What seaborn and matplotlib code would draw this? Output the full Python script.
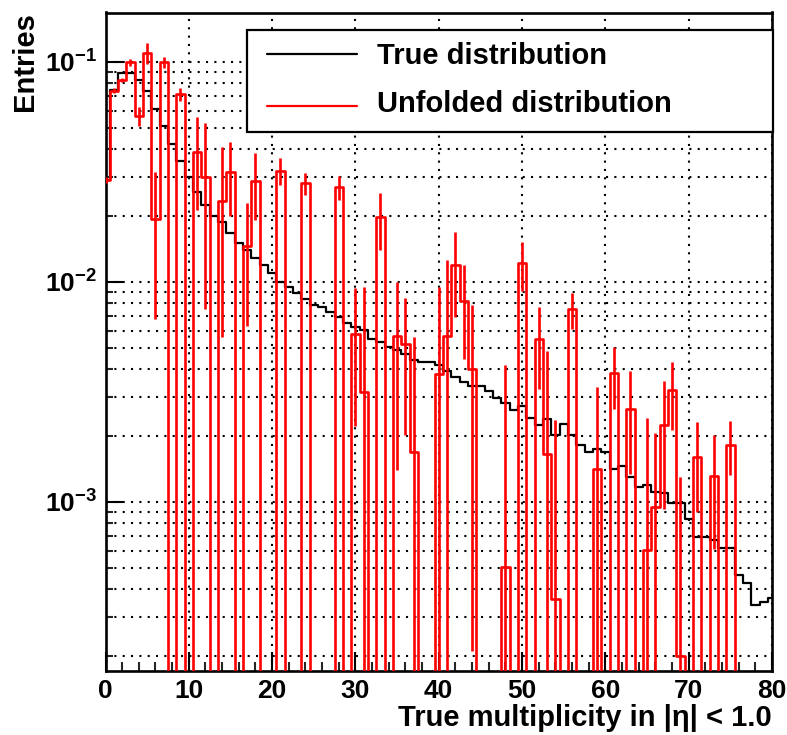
import numpy as np
import pandas as pd
import matplotlib
matplotlib.use("Agg")
import matplotlib.pyplot as plt
import seaborn as sns
from matplotlib.ticker import LogLocator, MultipleLocator, NullFormatter
from matplotlib.patches import Rectangle
from matplotlib.lines import Line2D

# ---------------- data ----------------
multiplicity = list(range(81))

true_dist = [
    0.029, 0.074, 0.089, 0.089, 0.0826, 0.0737, 0.0608, 0.0512, 0.0421, 0.0354,
    0.030, 0.0257, 0.0223, 0.0200, 0.0186, 0.0167, 0.0150, 0.0140, 0.0128, 0.0119,
    0.0109, 0.0100, 0.0095, 0.00886, 0.00831, 0.00783, 0.0077, 0.00731, 0.00693, 0.00647,
    0.00624, 0.00603, 0.00547, 0.00533, 0.00507, 0.0049, 0.00468, 0.00441, 0.00433, 0.0043,
    0.00418, 0.00393, 0.0037, 0.00351, 0.00336, 0.00336, 0.00318, 0.00295, 0.00282, 0.00261,
    0.00273, 0.00239, 0.00223, 0.00238, 0.00201, 0.00225, 0.00201, 0.00182, 0.00169, 0.00173,
    0.00169, 0.00141, 0.00145, 0.00129, 0.00117, 0.00119, 0.00111, 0.00109, 0.000989, 0.000989,
    0.000832, 0.000693, 0.000693, 0.00067, 0.000614, 0.000614, 0.000464, 0.000428, 0.000339, 0.000351,
    0.000364,
]

unfolded = [
    0.029, 0.0738, 0.0826, 0.0994, 0.0567, 0.110, 0.0192, 0.0994, 0.0, 0.071,
    0.0, 0.0387, 0.030, 0.0, 0.0233, 0.0316, 0.0, 0.0145, 0.0287, 0.0,
    0.0, 0.0319, 0.0, 0.0, 0.028, 0.0, 0.0, 0.0, 0.0269, 0.0,
    0.00578, 0.00316, 0.0, 0.0197, 0.0, 0.00569, 0.00521, 0.00168, 0.0, 0.0,
    0.0038, 0.00569, 0.0119, 0.00817, 0.00401, 0.0, 0.0, 0.0, 0.000507, 0.0,
    0.01213, 0.0, 0.00547, 0.00165, 0.00036, 0.0, 0.00751, 0.0, 0.0, 0.00141,
    0.0, 0.00383, 0.0, 0.00263, 0.0, 0.000603, 0.000948, 0.00223, 0.00322, 0.000199,
    0.0, 0.0016, 0.0, 0.00131, 0.0, 0.00182, 0.0, 0.0, 0.0, 0.0,
    0.0,
]

unfolded_err = [
    0.001, 0.002, 0.002, 0.0034, 0.0057, 0.012, 0.0124, 0.0056, 0.0, 0.0047,
    0.0, 0.0176, 0.0225, 0.0, 0.0177, 0.0117, 0.0, 0.0082, 0.0096, 0.0,
    0.0, 0.0045, 0.0, 0.0, 0.0033, 0.0, 0.0, 0.0, 0.0033, 0.0,
    0.00357, 0.00635, 0.0, 0.0057, 0.0, 0.0043, 0.0032, 0.00394, 0.0, 0.0,
    0.0057, 0.0068, 0.005, 0.0037, 0.0038, 0.0, 0.0, 0.0, 0.00367, 0.0,
    0.0031, 0.0, 0.0022, 0.0032, 0.0020, 0.0, 0.0014, 0.0, 0.0, 0.0019,
    0.0, 0.0012, 0.0, 0.0013, 0.0, 0.0018, 0.0011, 0.0013, 0.0011, 0.0011,
    0.0, 0.0007, 0.0, 0.0007, 0.0, 0.0005, 0.0, 0.0, 0.0, 0.0,
    0.0,
]

x_ticks = [0, 10, 20, 30, 40, 50, 60, 70, 80]
y_ticks = [1e-3, 1e-2, 1e-1]
y_tick_labels = [r"$\mathbf{10^{-3}}$", r"$\mathbf{10^{-2}}$", r"$\mathbf{10^{-1}}$"]
legend_labels = ["True distribution", "Unfolded distribution"]
x_title = "True multiplicity in |η| < 1.0"
y_title = "Entries"

# ---------------- style ----------------
sns.set_theme(style="white")
plt.rcParams["font.family"] = ["Liberation Sans", "DejaVu Sans"]
plt.rcParams["mathtext.fontset"] = "custom"
plt.rcParams["mathtext.rm"] = "Liberation Sans"
plt.rcParams["mathtext.bf"] = "Liberation Sans:bold"

W_PX, H_PX = 787, 735
fig = plt.figure(figsize=(W_PX / 100, H_PX / 100), dpi=100, facecolor="white")


def fx(px):
    return px / W_PX


def fy(py):
    return 1 - py / H_PX


ax_l, ax_r, ax_t, ax_b = 105.5, 772.0, 12.5, 670.7
ax = fig.add_axes([fx(ax_l), fy(ax_b), fx(ax_r) - fx(ax_l), fy(ax_t) - fy(ax_b)])
ax.set_facecolor("white")

df = pd.DataFrame({"mult": multiplicity, "true": true_dist,
                   "unf": unfolded, "err": unfolded_err})

sns.histplot(data=df, x="mult", weights="true", binwidth=1, binrange=(-0.5, 80.5),
             element="step", fill=False, color="black", linewidth=1.6, ax=ax, zorder=3)
sns.histplot(data=df, x="mult", weights="unf", binwidth=1, binrange=(-0.5, 80.5),
             element="step", fill=False, color="#ff0000", linewidth=1.9, ax=ax, zorder=4)

nz = df[df["unf"] > 0]
ax.errorbar(nz["mult"], nz["unf"], yerr=nz["err"], fmt="none",
            ecolor="#ff0000", elinewidth=1.9, capsize=0, zorder=4)

ax.set_yscale("log")
ax.set_xlim(0, 80)
ax.set_ylim(1.706e-4, 0.1674)

# ticks
ax.set_xticks(x_ticks, labels=[str(t) for t in x_ticks], fontsize=19, fontweight="bold")
ax.xaxis.set_minor_locator(MultipleLocator(2))
ax.set_yticks(y_ticks, labels=y_tick_labels, fontsize=19)
ax.yaxis.set_minor_locator(LogLocator(base=10, subs=np.arange(2, 10), numticks=30))
ax.yaxis.set_minor_formatter(NullFormatter())

ax.tick_params(axis="x", which="major", direction="in", length=14, width=1.5,
               pad=6, colors="black", bottom=True)
ax.tick_params(axis="x", which="minor", direction="in", length=6.5, width=1.5,
               bottom=True)
ax.tick_params(axis="y", which="major", direction="in", length=12, width=1.5,
               pad=6, colors="black", left=True)
ax.tick_params(axis="y", which="minor", direction="in", length=5, width=1.5,
               left=True)

# grid
grid_kw = dict(color="black", linestyle=(0, (1, 3)), linewidth=1.5)
ax.grid(True, which="major", axis="x", **grid_kw)
ax.grid(True, which="both", axis="y", **grid_kw)
ax.set_axisbelow(True)

for sp in ax.spines.values():
    sp.set_color("black")
    sp.set_linewidth(1.9)

# axis titles
ax.set_xlabel(x_title, fontsize=21, fontweight="bold", loc="right", color="black")
ax.xaxis.set_label_coords(1.0, -0.05)
ax.set_ylabel(y_title, fontsize=21, fontweight="bold", loc="top", color="black")
ax.yaxis.set_label_coords(-0.10, 1.0)

# legend (ROOT style box)
ax.add_patch(Rectangle((fx(247), fy(132)), fx(773) - fx(247), fy(30) - fy(132),
                       transform=fig.transFigure, facecolor="white",
                       edgecolor="black", linewidth=1.6, zorder=10, clip_on=False))
for (ly, ty, col, lab) in [(53.5, 55.5, "black", legend_labels[0]),
                           (105.5, 104.5, "#ff0000", legend_labels[1])]:
    ax.add_line(Line2D([fx(267), fx(357)], [fy(ly), fy(ly)], transform=fig.transFigure,
                       color=col, linewidth=1.6, zorder=11, clip_on=False))
    ax.text(fx(377), fy(ty), lab, transform=fig.transFigure, fontsize=21,
            fontweight="bold", va="center", ha="left", color="black", zorder=11)

fig.savefig("out.png", dpi=100, facecolor="white")
